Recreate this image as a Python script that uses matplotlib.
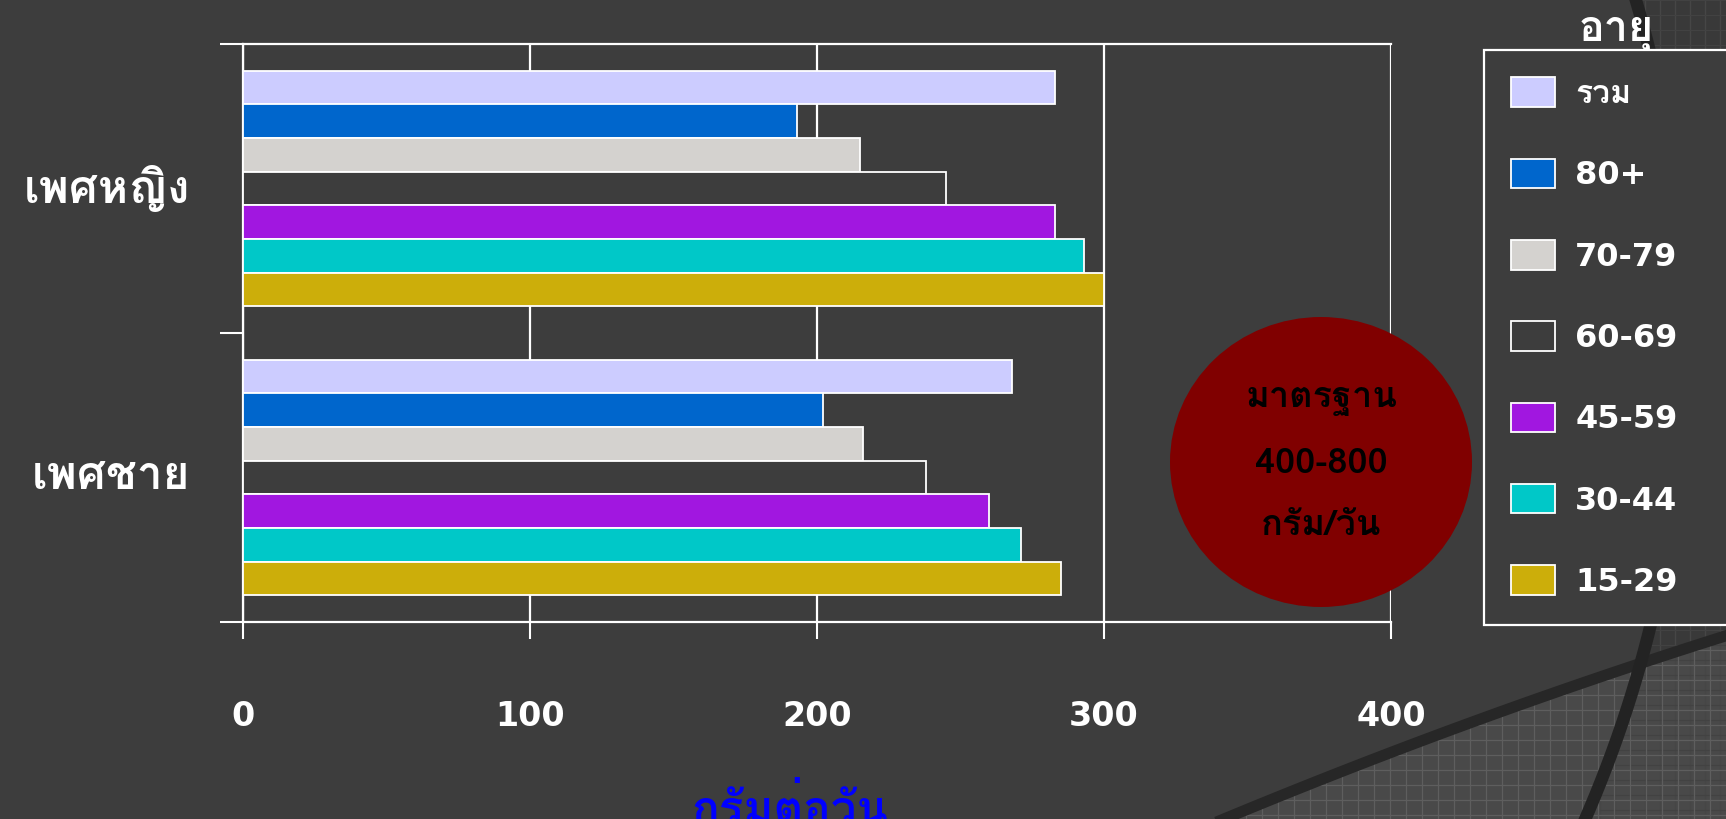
import matplotlib.pyplot as plt
import numpy as np
from matplotlib import font_manager, ft2font
from matplotlib.patches import Ellipse, Polygon


# ปริมาณที่ได้รับ (กรัมต่อวัน) แยกตามกลุ่มอายุ
groups = ["รวม", "80+", "70-79", "60-69", "45-59", "30-44", "15-29"]
colors = ["#CCCCFF", "#0066CC", "#D4D2CF", "#3D3D3D", "#A117E0", "#00C8C8", "#CCAE0A"]
women = [283, 193, 215, 245, 283, 293, 300]
men = [268, 202, 216, 238, 260, 271, 285]
sexes = ["เพศหญิง", "เพศชาย"]
xticks = [0, 100, 200, 300, 400]

BG = "#3D3D3D"


def thai_family():
    # หาฟอนต์ที่มีอักษรไทย
    for f in font_manager.fontManager.ttflist:
        try:
            if 0x0E01 in ft2font.FT2Font(f.fname).get_charmap():
                return f.name
        except Exception:
            pass
    return "DejaVu Sans"


THAI = thai_family()
TH = [THAI, "DejaVu Sans"]
plt.rcParams['font.family'] = ["DejaVu Sans", THAI]

W, H = 1726, 819
fig = plt.figure(figsize=(W / 100, H / 100), dpi=100, facecolor=BG)

# พื้นหลังตกแต่ง (ใช้พิกัดพิกเซล)
bg = fig.add_axes([0, 0, 1, 1], zorder=-5)
bg.set_xlim(0, W)
bg.set_ylim(H, 0)
bg.axis("off")
bg.set_facecolor(BG)

# ส่วนโค้งวงกลมใหญ่ด้านขวา
t = np.linspace(-0.35, 0.5, 200)
cx, cy, R = 485, 340, 1200
arc_x = cx + R * np.cos(t)
arc_y = cy + R * np.sin(t)
right = Polygon(np.vstack([np.column_stack([arc_x, arc_y]), [[W, H], [W, 0]]]),
                closed=True, facecolor="#393939", edgecolor="none")
bg.add_patch(right)
for gx in np.arange(1600, W, 15):
    ln = bg.plot([gx, gx], [0, H], color="#464646", lw=1.0)[0]
    ln.set_clip_path(right)
for gy in np.arange(0, H, 15):
    ln = bg.plot([1600, W], [gy, gy], color="#424242", lw=0.8)[0]
    ln.set_clip_path(right)

# พื้นที่ลายตารางด้านล่างขวา
xs = np.linspace(1150, W, 50)
ys = 788 - 0.40 * (xs - 1300) + 0.0001 * (xs - 1300) ** 2
poly = Polygon(np.vstack([np.column_stack([xs, ys]), [[W, H], [1150, H]]]),
               closed=True, facecolor="#4B4B4B", edgecolor="none", alpha=0.9)
bg.add_patch(poly)
for gx in np.arange(1150, W, 16):
    ln = bg.plot([gx, gx], [0, H], color="#5E5E5E", lw=0.9)[0]
    ln.set_clip_path(poly)
for gy in np.arange(500, H, 15):
    ln = bg.plot([1150, W], [gy, gy], color="#5E5E5E", lw=0.9)[0]
    ln.set_clip_path(poly)
bg.plot(xs, ys, color="#272727", lw=8)
bg.plot(arc_x, arc_y, color="#232323", lw=9)

# กราฟแท่งแนวนอน
ax = fig.add_axes([243 / W, 1 - 622 / H, (1391 - 243) / W, (622 - 44) / H])
ax.set_facecolor("none")
h = 0.1166
cats = np.array([1, 0])
for i, (g, c) in enumerate(zip(groups, colors)):
    vals = [women[i], men[i]]
    ax.barh(cats + (3 - i) * h, vals, height=h, color=c,
            edgecolor="white", linewidth=1.3, label=g, zorder=3)

ax.set_xlim(0, 400)
ax.set_ylim(-0.5, 1.5)
ax.set_xticks(xticks)
ax.set_xticklabels([str(v) for v in xticks], color="white", fontsize=24,
                   fontweight="bold")
ax.set_yticks([-0.5, 0.5, 1.5])
ax.set_yticklabels([])
ax.tick_params(axis="x", direction="out", length=12, width=1.5, color="white", pad=44)
ax.tick_params(axis="y", direction="out", length=16.5, width=1.5, color="white")
ax.grid(axis="x", color="white", lw=1.6, zorder=0)
for s in ["top", "left", "bottom"]:
    ax.spines[s].set_color("white")
    ax.spines[s].set_linewidth(1.6)
ax.spines["right"].set_visible(False)

for cat, name in zip(cats, sexes):
    ax.text(-53 / 2.87, cat, name, ha="right", va="center", color="white",
            fontsize=33, fontweight="bold", family=TH)

fig.text(790 / W, 1 - 808 / H, "กรัมต่อวัน", ha="center", va="center",
         color="#0000FF", fontsize=33, fontweight="bold", family=TH)

# วงกลมมาตรฐาน
fig.patches.append(Ellipse((1321 / W, 1 - 462 / H), 302 / W, 290 / H,
                           transform=fig.transFigure, facecolor="#800000",
                           edgecolor="none", zorder=5))
for yy, s in [(400, "มาตรฐาน"), (464, "400-800"), (526, "กรัม/วัน")]:
    fig.text(1321 / W, 1 - yy / H, s, ha="center", va="center", color="black",
             fontsize=26, fontweight="bold", family=TH, zorder=6)

# คำอธิบายสัญลักษณ์
leg = fig.legend(loc="upper left", bbox_to_anchor=(1484 / W, 1 - 50 / H, 0.2, 0),
                 mode="expand", frameon=True, fancybox=False, facecolor=BG,
                 edgecolor="white", framealpha=1, fontsize=23, handlelength=1.35,
                 handleheight=1.05, labelspacing=1.52, borderpad=0.86,
                 handletextpad=0.65, borderaxespad=0)
leg.get_frame().set_linewidth(1.6)
for tx in leg.get_texts():
    tx.set_color("white")
    tx.set_fontweight("bold")
fig.text(1616 / W, 1 - 33 / H, "อายุ", ha="center", va="center", color="white",
         fontsize=31, fontweight="bold", family=TH)

fig.savefig("out.png", dpi=100, facecolor=BG)
